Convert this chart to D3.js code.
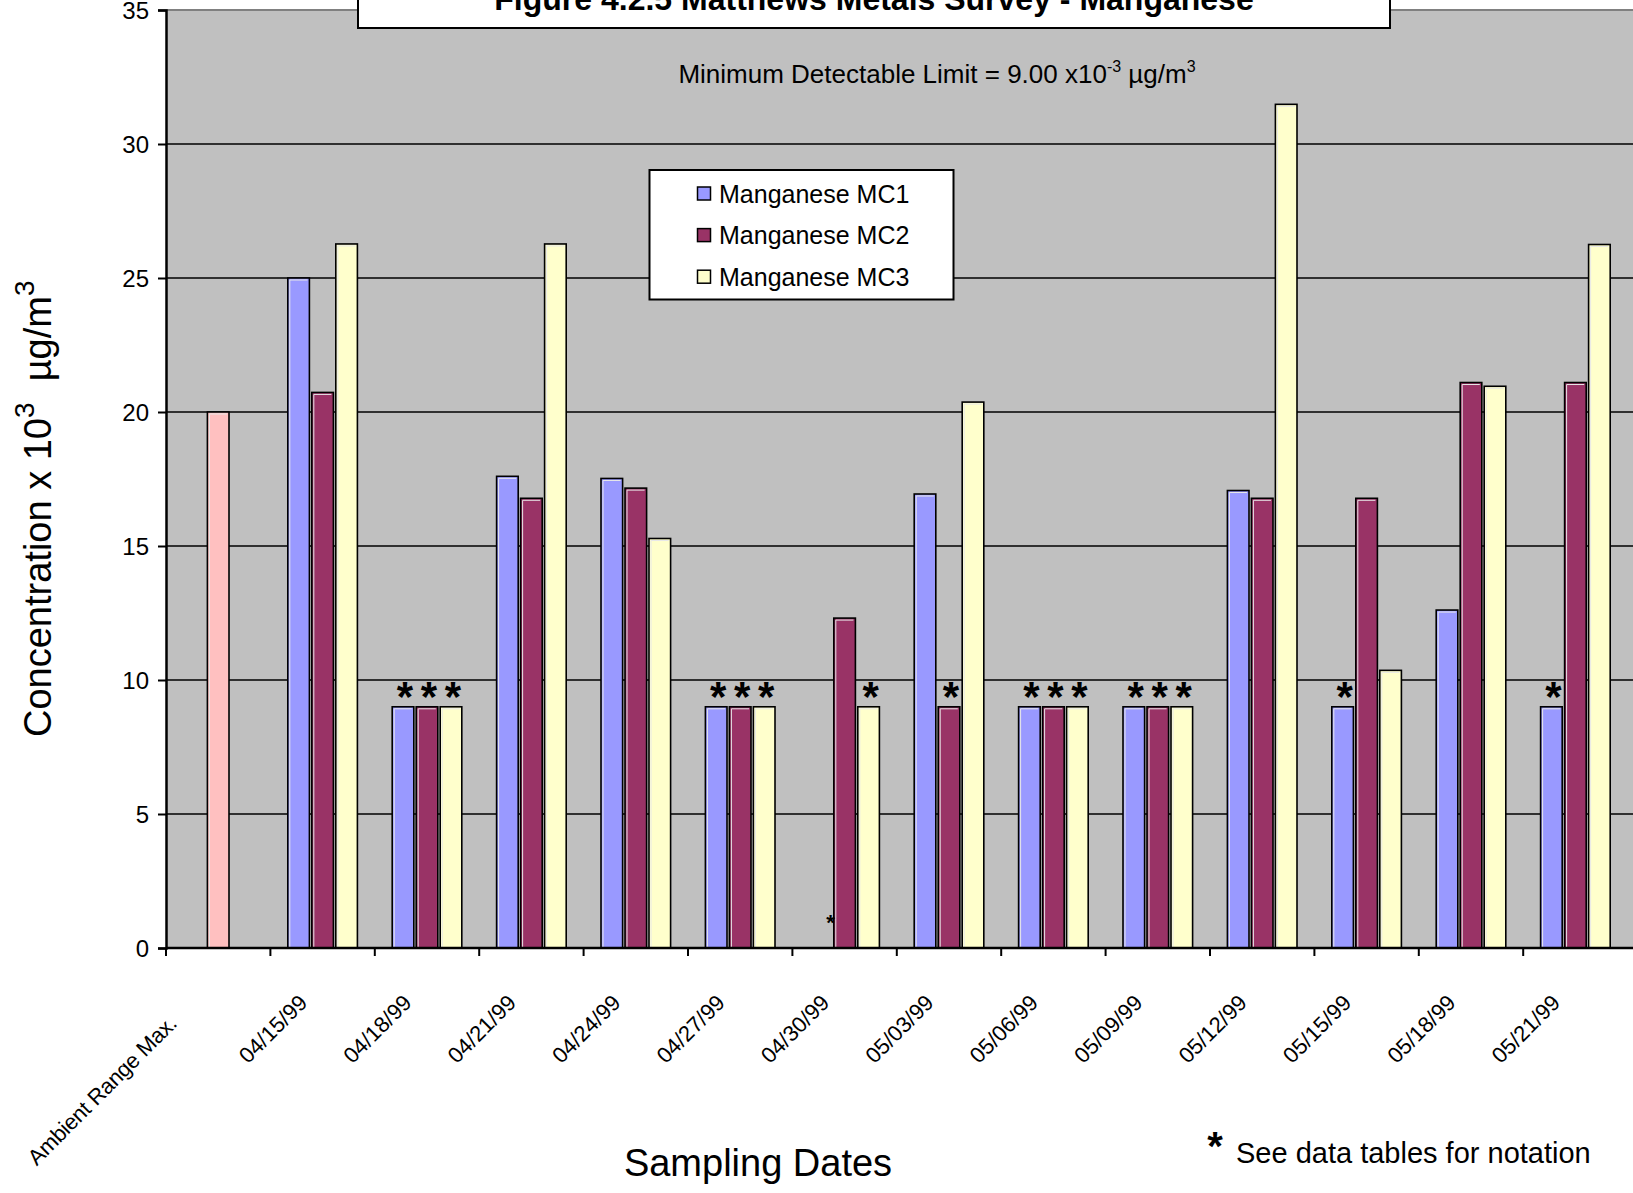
<!DOCTYPE html>
<html>
<head>
<meta charset="utf-8">
<script src="https://cdn.jsdelivr.net/npm/d3@7"></script>
<style>
  html, body { margin: 0; padding: 0; background: #ffffff; }
  svg { display: block; font-family: Arial, "Liberation Sans", sans-serif; }
  text { white-space: pre; }
</style>
</head>
<body>
<svg id="chart" width="1633" height="1193"></svg>
<script>
// ---------------- data ----------------
const categories = ["Ambient Range Max.", "04/15/99", "04/18/99", "04/21/99", "04/24/99", "04/27/99",
  "04/30/99", "05/03/99", "05/06/99", "05/09/99", "05/12/99", "05/15/99", "05/18/99", "05/21/99"];
const seriesNames = ["Manganese MC1", "Manganese MC2", "Manganese MC3"];
const ambientMax = [20.0, null, null, null, null, null, null, null, null, null, null, null, null, null];
const mc1 = [null, 25.0, 9.0, 17.6, 17.52, 9.0, 0, 16.94, 9.0, 9.0, 17.07, 9.0, 12.61, 9.0];
const mc2 = [null, 20.73, 9.0, 16.78, 17.16, 9.0, 12.31, 9.0, 9.0, 9.0, 16.78, 16.78, 21.1, 21.1];
const mc3 = [null, 26.27, 9.0, 26.27, 15.28, 9.0, 9.0, 20.37, 9.0, 9.0, 31.48, 10.36, 20.96, 26.25];
// asterisk notation flags (1 = "*" shown over the bar)
const mc1Flag = [0, 0, 1, 0, 0, 1, 1, 0, 1, 1, 0, 1, 0, 1];
const mc2Flag = [0, 0, 1, 0, 0, 1, 0, 1, 1, 1, 0, 0, 0, 0];
const mc3Flag = [0, 0, 1, 0, 0, 1, 1, 0, 1, 1, 0, 0, 0, 0];
const yTicks = [0, 5, 10, 15, 20, 25, 30, 35];
const colors = ["#9999FF", "#993366", "#FFFFCC"];
const ambientColor = "#FFC0C0";

// ---------------- layout ----------------
(function () {
const svg = d3.select("#chart");
const pLeft = 166, pBottom = 948, pTop = 10, catW = 104.4;
const plotRight = 1640;

const y = d3.scaleLinear().domain([0, 35]).range([pBottom, pTop]);
const x0 = d3.scaleBand().domain(categories).range([pLeft, pLeft + catW * categories.length]).padding(0);
const x1 = d3.scaleBand().domain(seriesNames).range([0, x0.bandwidth()]).paddingInner(0.1).paddingOuter(0.725);

// plot background
svg.append("rect").attr("x", pLeft).attr("y", pTop).attr("width", plotRight - pLeft).attr("height", pBottom - pTop)
  .attr("fill", "#C0C0C0");

// gridlines
svg.append("g").selectAll("line").data(yTicks.filter(t => t > 0 && t < 35)).join("line")
  .attr("x1", pLeft).attr("x2", plotRight).attr("y1", d => y(d)).attr("y2", d => y(d))
  .attr("stroke", "#000").attr("stroke-width", 1.3);
// top border
svg.append("line").attr("x1", pLeft).attr("x2", plotRight).attr("y1", y(35)).attr("y2", y(35))
  .attr("stroke", "#808080").attr("stroke-width", 2);

// bars
const series = [mc1, mc2, mc3];
const flags = [mc1Flag, mc2Flag, mc3Flag];
const barData = [];
series.forEach((vals, si) => {
  vals.forEach((v, ci) => {
    if (v !== null && v > 0) barData.push({cat: categories[ci], s: seriesNames[si], v, color: colors[si]});
  });
});
ambientMax.forEach((v, ci) => {
  if (v !== null) barData.push({cat: categories[ci], s: seriesNames[1], v, color: ambientColor});
});
const gBars = svg.append("g");
gBars.selectAll("rect").data(barData).join("rect")
  .attr("x", d => x0(d.cat) + x1(d.s))
  .attr("y", d => y(d.v))
  .attr("width", x1.bandwidth())
  .attr("height", d => y(0) - y(d.v))
  .attr("fill", d => d.color)
  .attr("stroke", "#000").attr("stroke-width", 1.6);
// inner light highlight
gBars.selectAll("path").data(barData).join("path")
  .attr("d", d => {
    const xx = x0(d.cat) + x1(d.s) + 2, yy = y(d.v) + 2;
    return `M${xx},${y(0)} L${xx},${yy} L${xx + x1.bandwidth() - 4},${yy}`;
  })
  .attr("fill", "none").attr("stroke", "#e8e8e8").attr("stroke-width", 1);

// asterisks
const starData = [];
flags.forEach((fl, si) => {
  fl.forEach((f, ci) => {
    if (f) starData.push({cat: categories[ci], s: seriesNames[si], v: series[si][ci] || 0});
  });
});
svg.append("g").selectAll("text").data(starData).join("text")
  .attr("x", d => x0(d.cat) + x1(d.s) + x1.bandwidth() / 2 + (d.v > 0 ? 2 : 10))
  .attr("y", d => d.v > 0 ? y(d.v) - 15 + 0.45 * 42 : y(d.v) - 28 + 0.45 * 22)
  .attr("text-anchor", "middle")
  .attr("font-size", d => d.v > 0 ? 42 : 22)
  .attr("font-weight", "bold")
  .text("*");

// axes
svg.append("line").attr("x1", pLeft).attr("x2", plotRight).attr("y1", pBottom).attr("y2", pBottom)
  .attr("stroke", "#000").attr("stroke-width", 2.5);
const yAxis = d3.axisLeft(y).tickValues(yTicks).tickSize(8).tickPadding(9).tickFormat(d3.format("d"));
const gy = svg.append("g").attr("transform", `translate(${pLeft},0)`).call(yAxis);
gy.select(".domain").attr("stroke", "#000").attr("stroke-width", 2.5);
gy.selectAll(".tick line").attr("stroke", "#000").attr("stroke-width", 2);
gy.selectAll(".tick text").attr("font-size", 24).attr("font-family", "Arial, 'Liberation Sans', sans-serif")
  .attr("fill", "#000").attr("dy", "0.35em");

// x ticks at category boundaries
const bounds = categories.map(c => x0(c));
svg.append("g").selectAll("line").data(bounds).join("line")
  .attr("x1", d => d).attr("x2", d => d).attr("y1", pBottom).attr("y2", pBottom + 8)
  .attr("stroke", "#000").attr("stroke-width", 2);

// x labels
svg.append("g").selectAll("text").data(categories).join("text")
  .attr("transform", (d, i) => {
    const cx = x0(d) + x0.bandwidth() / 2;
    return i === 0 ? `translate(${cx - 40},1025) rotate(-45)` : `translate(${cx - 14},1004) rotate(-45)`;
  })
  .attr("text-anchor", "end")
  .attr("font-size", 22)
  .attr("letter-spacing", (d, i) => i === 0 ? -0.3 : 0)
  .text(d => d);

// title box
svg.append("rect").attr("x", 358).attr("y", -10).attr("width", 1032).attr("height", 38)
  .attr("fill", "#fff").attr("stroke", "#000").attr("stroke-width", 2);
svg.append("text").attr("x", 874).attr("y", 10).attr("text-anchor", "middle")
  .attr("font-size", 32).attr("font-weight", "bold")
  .text("Figure 4.2.5 Matthews Metals Survey - Manganese");

// subtitle
const sub = svg.append("text").attr("x", 937).attr("y", 83).attr("text-anchor", "middle").attr("font-size", 26);
sub.append("tspan").text("Minimum Detectable Limit = 9.00 x10");
sub.append("tspan").attr("font-size", 16).attr("dy", -11).text("-3");
sub.append("tspan").attr("dy", 11).text(" \u00b5g/m");
sub.append("tspan").attr("font-size", 16).attr("dy", -11).text("3");

// legend
const lg = svg.append("g");
lg.append("rect").attr("x", 649.5).attr("y", 170).attr("width", 304).attr("height", 129.5)
  .attr("fill", "#fff").attr("stroke", "#000").attr("stroke-width", 2);
seriesNames.forEach((n, i) => {
  const yy = 187 + i * 41.6;
  lg.append("rect").attr("x", 697.5).attr("y", yy).attr("width", 13).attr("height", 13)
    .attr("fill", colors[i]).attr("stroke", "#000").attr("stroke-width", 1.5);
  lg.append("text").attr("x", 719).attr("y", yy + 15.5).attr("font-size", 25).text(n);
});

// y axis title
const yt = svg.append("text").attr("transform", "translate(51,737) rotate(-90)").attr("font-size", 38);
yt.append("tspan").text("Concentration x 10");
yt.append("tspan").attr("font-size", 28).attr("dy", -17).text("3");
yt.append("tspan").attr("dy", 17).text("  \u00b5g/m");
yt.append("tspan").attr("font-size", 28).attr("dy", -17).text("3");

// x axis title
svg.append("text").attr("x", 758).attr("y", 1176).attr("text-anchor", "middle").attr("font-size", 38)
  .text("Sampling Dates");

// footnote
svg.append("text").attr("x", 1215).attr("y", 1160).attr("text-anchor", "middle").attr("font-size", 40)
  .attr("font-weight", "bold").text("*");
svg.append("text").attr("x", 1236).attr("y", 1163).attr("font-size", 29).text("See data tables for notation");
})();
</script>
</body>
</html>
